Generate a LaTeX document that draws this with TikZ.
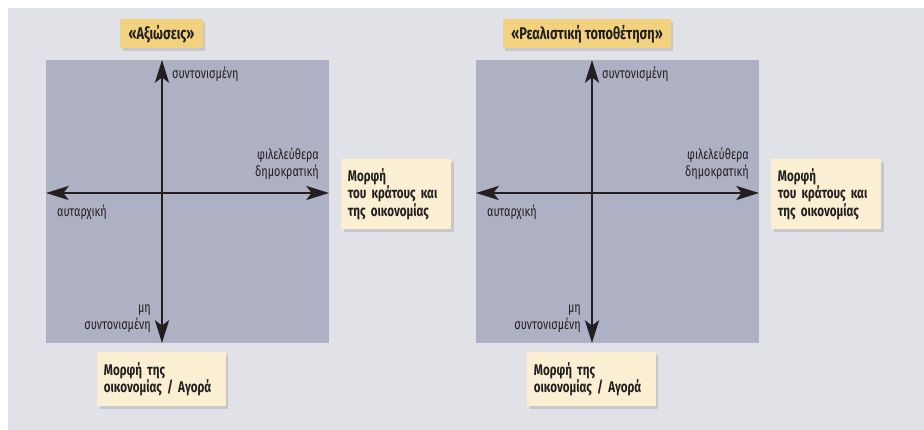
\documentclass[tikz,border=0pt]{standalone}
\usepackage{fontspec}
\setmainfont{Fira Sans}[FakeStretch=0.75]
\usetikzlibrary{positioning}
\usetikzlibrary{arrows.meta}
\usetikzlibrary{shadows}
\definecolor{panel}{HTML}{E1E2E8}
\definecolor{plane}{HTML}{AEB1C4}
\definecolor{gold}{HTML}{F3D27D}
\definecolor{cream}{HTML}{FAEFD2}
\definecolor{ink}{HTML}{231F20}

\begin{document}
\begin{tikzpicture}[x=0.03cm,y=-0.03cm]
\tikzstyle{shade}=[drop shadow={shadow xshift=2pt,shadow yshift=-2pt,opacity=0.3,fill=black!45}]
\tikzstyle{title}=[rectangle,fill=gold,shade,font=\bfseries\fontsize{14.5}{16}\selectfont,text=ink,minimum height=0.87cm,inner xsep=0.25cm]
\tikzstyle{note}=[rectangle,fill=cream,shade,font=\bfseries\fontsize{13.2}{15.3}\selectfont,text=ink,align=left,inner xsep=0.2cm,anchor=north west]
\tikzstyle{lbl}=[font=\fontsize{12.3}{14.5}\selectfont,text=ink,inner sep=0pt]
\tikzstyle{axis}=[ink,line width=2.5pt,{Stealth[length=0.68cm,width=0.42cm,inset=0.16cm]}-{Stealth[length=0.68cm,width=0.42cm,inset=0.16cm]}]
\useasboundingbox (0,0) rectangle (924,430);
\fill[white] (0,0) rectangle (924,430);
\fill[panel] (8,8) rectangle (924,430);

\foreach \dx/\txt/\tx in {0/{«Αξιώσεις»}/161.5, 430/{«Ρεαλιστική τοποθέτηση»}/587}{
  \fill[plane] (46+\dx,60) rectangle (329+\dx,343);
  \coordinate (t) at (162+\dx,60);
  \coordinate (b) at (162+\dx,343);
  \coordinate (l) at (46+\dx,193);
  \coordinate (r) at (329+\dx,193);
  \draw[axis] (b) -- (t);
  \draw[axis] (l) -- (r);
  \node[lbl,anchor=west] (up) at (172+\dx,74) {συντονισμένη};
  \node[lbl,anchor=east,align=right] (lib) at (319+\dx,164) {φιλελεύθερα\\δημοκρατική};
  \node[lbl,anchor=west] (aut) at (57+\dx,212) {αυταρχική};
  \node[lbl,anchor=east,align=right] (dn) at (151+\dx,319) {μη\\συντονισμένη};
  \node[title] (head) at (\tx,34) {\txt};
  \node[note,text width=2.9cm,minimum height=2.1cm] (state) at (341+\dx,159) {Μορφή\\του κράτους και\\της οικονομίας};
  \node[note,text width=3.45cm,minimum height=1.62cm] (market) at (97+\dx,352) {Μορφή της\\οικονομίας / Αγορά};
}
\end{tikzpicture}
\end{document}
